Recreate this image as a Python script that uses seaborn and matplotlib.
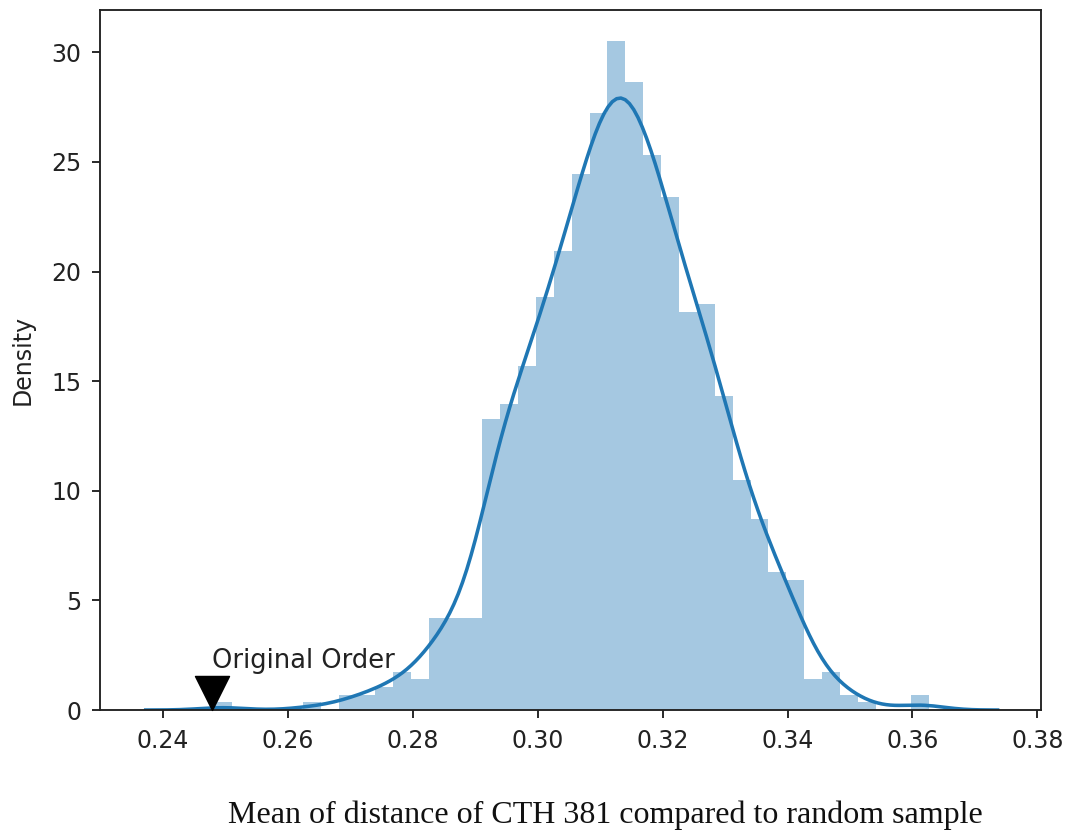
import numpy as np
import pandas as pd
import matplotlib
matplotlib.use("Agg")
import matplotlib.pyplot as plt
import seaborn as sns
from matplotlib.path import Path

# ---- data ----
bin_start = 0.24814          # left edge of first histogram bin
bin_width = 0.0028645        # histogram bin width
density = [0.35, 0.00, 0.00, 0.00, 0.00, 0.35, 0.00, 0.70, 0.70, 1.05,
           1.75, 1.40, 4.19, 4.19, 4.19, 13.27, 13.96, 15.71, 18.85, 20.95,
           24.44, 27.23, 30.50, 28.63, 25.30, 23.40, 18.15, 18.50, 14.31, 10.47,
           8.73, 6.28, 5.93, 1.40, 1.75, 0.70, 0.35, 0.00, 0.00, 0.70]
original_order = 0.2478
annotation_text = "Original Order"
x_ticks = [0.24, 0.26, 0.28, 0.30, 0.32, 0.34, 0.36, 0.38]
x_tick_labels = ["0.24", "0.26", "0.28", "0.30", "0.32", "0.34", "0.36", "0.38"]
y_ticks = [0, 5, 10, 15, 20, 25, 30]
y_label = "Density"
caption = "Mean of distance of CTH 381 compared to random sample"
scott_factor = 0.251         # KDE bandwidth factor (n ~ 1000 samples)

# ---- derived ----
edges = [bin_start + bin_width * i for i in range(len(density) + 1)]
centers = [(edges[i] + edges[i + 1]) / 2 for i in range(len(density))]
df = pd.DataFrame({"value": centers, "density": density})
wts = np.array(density) / np.sum(density)
mean = float(np.sum(wts * np.array(centers)))
sigma = float(np.sqrt(np.sum(wts * (np.array(centers) - mean) ** 2)))
bw = scott_factor * sigma
kde_clip = (edges[0] - 3 * bw, edges[-1] + 3 * bw)

blue = "#1f77b4"
S = 1.7  # scale relative to matplotlib defaults

fig = plt.figure(figsize=(10.77, 8.39), dpi=100)
ax = fig.add_axes([0.0929, 0.1537, 0.8737, 0.8344])

sns.histplot(data=df, x="value", weights="density", bins=edges, stat="count",
             color=blue, alpha=0.4, linewidth=0, ax=ax)
sns.kdeplot(data=df, x="value", weights="density", bw_method=scott_factor,
            cut=10, clip=kde_clip, color=blue, linewidth=1.5 * S, ax=ax)

# marker: downward triangle with tip at the baseline
tri = Path([(0, 0), (-0.5, 1), (0.5, 1), (0, 0)],
           [Path.MOVETO, Path.LINETO, Path.LINETO, Path.CLOSEPOLY])
ax.plot([original_order], [0], marker=tri, markersize=49, color="black",
        linestyle="none", clip_on=False, zorder=5)
ax.text(original_order, 1.9, annotation_text, ha="left", va="baseline",
        fontsize=18.5, color="#222222")

ax.set_xlim(0.2299, 0.3806)
ax.set_ylim(0, 31.93)
ax.set_xticks(x_ticks)
ax.set_xticklabels(x_tick_labels)
ax.set_yticks(y_ticks)
ax.set_xlabel("")
ax.set_ylabel(y_label, fontsize=17, labelpad=12, color="#222222")
ax.tick_params(labelsize=17, length=6, width=0.8 * S, pad=7.5,
               colors="#222222")
for sp in ax.spines.values():
    sp.set_linewidth(0.8 * S)
    sp.set_color("#222222")

fig.text(0.5617, 0.0286, caption, ha="center", va="center",
         fontsize=23, family="Liberation Serif", color="#111111")

fig.savefig("out.png", dpi=100)
